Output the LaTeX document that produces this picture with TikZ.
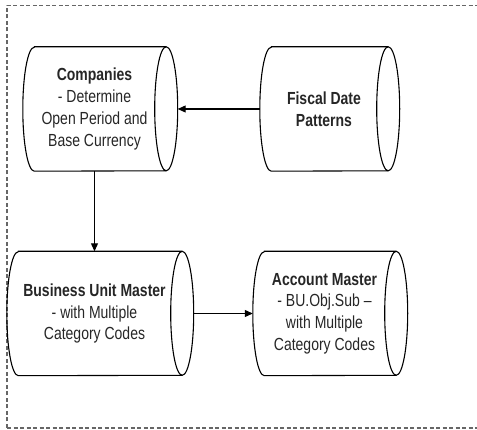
\documentclass[tikz,border=0pt]{standalone}
\usepackage{fontspec}
\setmainfont{Liberation Sans}[FakeStretch=0.8]
\usetikzlibrary{arrows.meta}
\newcommand\drumoutline[1]{%
  \draw[drumline] ([xshift=11.5pt]#1.north west) -- (#1.north east)
    arc[start angle=90,end angle=-90,x radius=11.5pt,y radius=62pt]
    -- ([xshift=11.5pt]#1.south west)
    arc[start angle=270,end angle=90,x radius=11.5pt,y radius=62pt] -- cycle;
  \draw[drumline] (#1.north east) arc[start angle=90,end angle=270,x radius=11.5pt,y radius=62pt];}
\begin{document}
\begin{tikzpicture}[x=1pt,y=1pt,
  drum/.style={inner sep=0pt, align=center, text=black!85,
    font=\fontsize{17.5}{21.7}\selectfont, minimum height=124pt},
  drumline/.style={line width=1.1pt, black},
  link/.style={draw=black, line width=1.1pt, -{Triangle[length=8pt,width=7pt]}},
  frame/.style={dash pattern=on 4pt off 2.5pt, line width=1.5pt, black!60}]
\useasboundingbox (0,0) rectangle (477,430);
\draw[frame] (7,2) -- (7,424.5) -- (477.3,424.5);
\draw[frame] (7,2) -- (477.3,2);
\draw[frame, black!25] (477.3,2) -- (477.3,424.5);

\node[drum, minimum width=143pt] (comp) at (94.5,321)
  {\textbf{Companies}\\- Determine\\Open Period and\\Base Currency};
\node[drum, minimum width=128pt] (fisc) at (324,321)
  {\textbf{Fiscal Date}\\\textbf{Patterns}};
\node[drum, minimum width=175pt] (bu) at (94.5,116.5)
  {\textbf{Business Unit Master}\\- with Multiple\\Category Codes};
\node[drum, minimum width=143pt] (acct) at (324.5,116.5)
  {\textbf{Account Master}\\- BU.Obj.Sub --\\with Multiple\\Category Codes};

\drumoutline{comp}
\drumoutline{fisc}
\drumoutline{bu}
\drumoutline{acct}

\draw[link] (fisc.west) -- ([xshift=11.5pt]comp.east);
\draw[link] (comp.south) -- (comp.south |- bu.north);
\draw[link] ([xshift=11.5pt]bu.east) -- (acct.west);
\end{tikzpicture}
\end{document}
